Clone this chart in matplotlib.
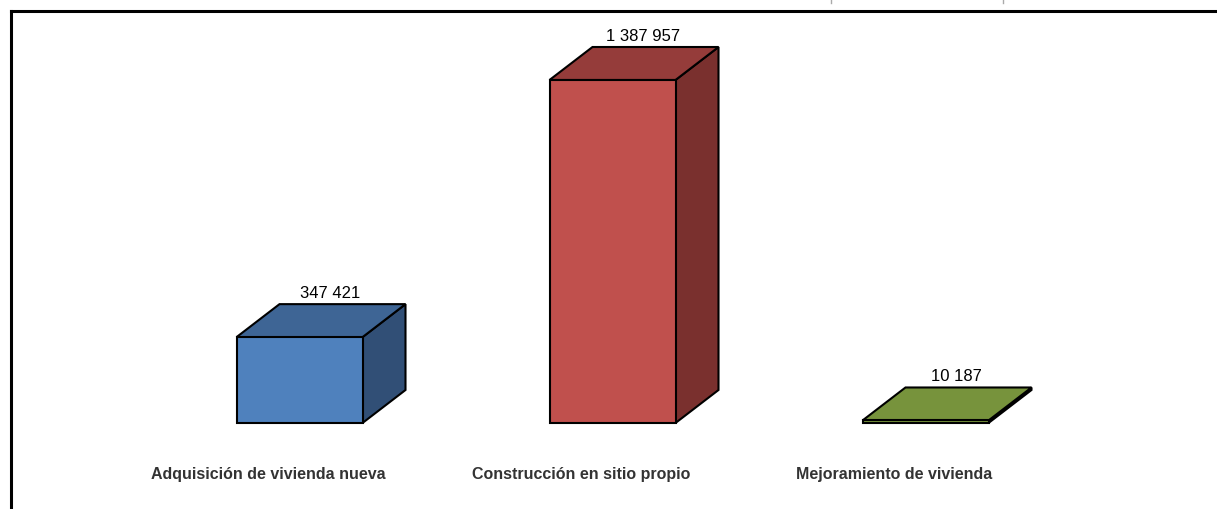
import matplotlib
matplotlib.use("Agg")
import matplotlib.pyplot as plt
from matplotlib.patches import Polygon

# datos
categorias = ["Adquisición de vivienda nueva", "Construcción en sitio propio", "Mejoramiento de vivienda"]
valores = [347421, 1387957, 10187]
etiquetas = ["347 421", "1 387 957", "10 187"]
col_frente = ["#4F81BD", "#C0504D", "#77933C"]
col_tapa = ["#3E6595", "#953C3A", "#77933C"]
col_lado = ["#314F76", "#7A302E", "#5C722E"]

plt.rcParams['font.family'] = ['Liberation Sans Narrow', 'Liberation Sans', 'DejaVu Sans']

fig = plt.figure(figsize=(12.17, 5.09), dpi=100)
ax = fig.add_axes([0, 0, 1, 1])
px_val = 1387957 / 343.0  # valor por pixel
ax.set_xlim(-299.5 / 313, (1217 - 299.5) / 313)
ax.set_ylim(-86 * px_val, 423 * px_val)
ax.axis('off')

ancho = 126 / 313
dx = 43 / 313
dy = 33 * px_val

for i, v in enumerate(valores):
    x0 = i - ancho / 2
    x1 = i + ancho / 2
    # lado
    ax.add_patch(Polygon([(x1, 0), (x1 + dx, dy), (x1 + dx, v + dy), (x1, v)],
                         closed=True, fc=col_lado[i], ec='black', lw=1.5, zorder=2))
    # tapa
    ax.add_patch(Polygon([(x0, v), (x0 + dx, v + dy), (x1 + dx, v + dy), (x1, v)],
                         closed=True, fc=col_tapa[i], ec='black', lw=1.5, zorder=2))
    # frente
    ax.bar(i, v, width=ancho, color=col_frente[i], edgecolor='black', lw=1.5, zorder=3)
    ax.text(i + dx / 2 + 0.03, v + dy + 3 * px_val, etiquetas[i], ha='center', va='bottom',
            fontsize=12, color='black')
    ax.text(i - 0.1, -51 * px_val, categorias[i], ha='center', va='center',
            fontsize=11.5, fontweight='bold', color='#333333')

# marco
fig.add_artist(plt.Line2D([11 / 1217, 1], [1 - 11 / 509, 1 - 11 / 509], color='black', lw=2.2))
fig.add_artist(plt.Line2D([11 / 1217, 11 / 1217], [0, 1 - 11 / 509], color='black', lw=2.2))
for xp in [831, 1003]:
    fig.add_artist(plt.Line2D([xp / 1217, xp / 1217], [1, 1 - 3 / 509], color='#aaaaaa', lw=1))

fig.savefig("out.png", dpi=100)
